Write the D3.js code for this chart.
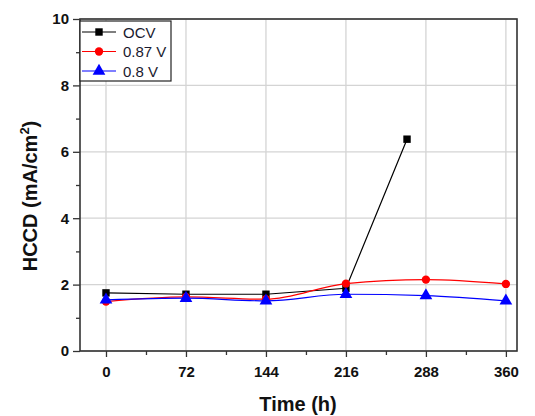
<!DOCTYPE html>
<html>
<head>
<meta charset="utf-8">
<script src="https://cdn.jsdelivr.net/npm/d3@7"></script>
<style>
  body { margin: 0; background: #fff; }
  svg { font-family: "Liberation Sans", Arial, sans-serif; }
</style>
</head>
<body>
<svg id="chart" width="535" height="416"></svg>
<script>
// data
const timeTicks = [0, 72, 144, 216, 288, 360];
const yTicks = [0, 2, 4, 6, 8, 10];
const ocvTime = [0, 72, 144, 216, 271];
const ocvVals = [1.75, 1.71, 1.71, 1.89, 6.38];
const v087Time = [0, 72, 144, 216, 288, 360];
const v087Vals = [1.49, 1.63, 1.56, 2.03, 2.15, 2.02];
const v08Time = [0, 72, 144, 216, 288, 360];
const v08Vals = [1.54, 1.59, 1.51, 1.71, 1.67, 1.51];

const svg = d3.select("#chart");
const pLeft = 80, pRight = 517, pTop = 19, pBottom = 351;

const x = d3.scaleLinear().domain([-23.4, 370]).range([pLeft, pRight]);
const y = d3.scaleLinear().domain([0, 10]).range([pBottom, pTop]);

// grid
const grid = svg.append("g").attr("stroke", "#d4d4d4").attr("stroke-width", 1.3);
timeTicks.forEach(t => grid.append("line")
  .attr("x1", x(t)).attr("x2", x(t)).attr("y1", pTop).attr("y2", pBottom));
yTicks.forEach(v => grid.append("line")
  .attr("x1", pLeft).attr("x2", pRight).attr("y1", y(v)).attr("y2", y(v)));

// axes
const xAxis = d3.axisBottom(x).tickValues(timeTicks).tickSize(6).tickPadding(9);
const xMinor = d3.axisBottom(x).tickValues([36, 108, 180, 252, 324]).tickSize(4).tickFormat("");
const yAxis = d3.axisLeft(y).tickValues(yTicks).tickSize(7).tickPadding(4);
const yMinor = d3.axisLeft(y).tickValues([1, 3, 5, 7, 9]).tickSize(4).tickFormat("");

function styleAxis(g) {
  g.select(".domain").remove();
  g.selectAll("line").attr("stroke", "#333").attr("stroke-width", 1.3);
  g.selectAll("text").attr("fill", "#111").style("font-size", "15px").style("font-weight", "bold");
}
svg.append("g").attr("transform", `translate(0,${pBottom})`).call(xAxis).call(styleAxis);
svg.append("g").attr("transform", `translate(0,${pBottom})`).call(xMinor).call(styleAxis);
svg.append("g").attr("transform", `translate(${pLeft},0)`).call(yAxis).call(styleAxis);
svg.append("g").attr("transform", `translate(${pLeft},0)`).call(yMinor).call(styleAxis);

// frame
svg.append("rect")
  .attr("x", pLeft).attr("y", pTop).attr("width", pRight - pLeft).attr("height", pBottom - pTop)
  .attr("fill", "none").attr("stroke", "#333").attr("stroke-width", 1.6);

// series
const series = [
  { name: "OCV", t: ocvTime, v: ocvVals, color: "#000", shape: d3.symbolSquare, size: 55, curve: d3.curveLinear },
  { name: "0.87 V", t: v087Time, v: v087Vals, color: "#ff0000", shape: d3.symbolCircle, size: 55, curve: d3.curveMonotoneX },
  { name: "0.8 V", t: v08Time, v: v08Vals, color: "#0000ff", shape: d3.symbolTriangle, size: 70, curve: d3.curveMonotoneX }
];

series.forEach(s => {
  const pts = s.t.map((t, i) => [t, s.v[i]]);
  const line = d3.line().x(d => x(d[0])).y(d => y(d[1])).curve(s.curve);
  svg.append("path").datum(pts)
    .attr("d", line).attr("fill", "none")
    .attr("stroke", s.color).attr("stroke-width", 1.2);
  svg.selectAll(null).data(pts).enter().append("path")
    .attr("d", d3.symbol().type(s.shape).size(s.size))
    .attr("transform", d => `translate(${x(d[0])},${y(d[1])})`)
    .attr("fill", s.color);
});

// legend
const legend = svg.append("g").attr("transform", "translate(80,21)");
legend.append("rect").attr("x", 0).attr("y", 0).attr("width", 91).attr("height", 60)
  .attr("fill", "#fff").attr("stroke", "#222").attr("stroke-width", 1.2);
series.forEach((s, i) => {
  const ly = 11 + i * 19.5;
  legend.append("line").attr("x1", 2).attr("x2", 36).attr("y1", ly).attr("y2", ly)
    .attr("stroke", s.color).attr("stroke-width", 1.2);
  legend.append("path").attr("d", d3.symbol().type(s.shape).size(s.size))
    .attr("transform", `translate(19,${ly})`).attr("fill", s.color);
  legend.append("text").attr("x", 43).attr("y", ly + 5.5)
    .attr("fill", "#1a1a2e").style("font-size", "15px").text(s.name);
});

// axis titles
svg.append("text")
  .attr("x", 298).attr("y", 411)
  .attr("text-anchor", "middle").attr("fill", "#111")
  .style("font-size", "20px").style("font-weight", "bold")
  .text("Time (h)");

const yl = svg.append("text")
  .attr("transform", `translate(37,196) rotate(-90)`)
  .attr("text-anchor", "middle").attr("fill", "#111")
  .style("font-size", "20px").style("font-weight", "bold");
yl.append("tspan").text("HCCD (mA/cm");
yl.append("tspan").attr("dy", -8).style("font-size", "13px").text("2");
yl.append("tspan").attr("dy", 8).text(")");
</script>
</body>
</html>
